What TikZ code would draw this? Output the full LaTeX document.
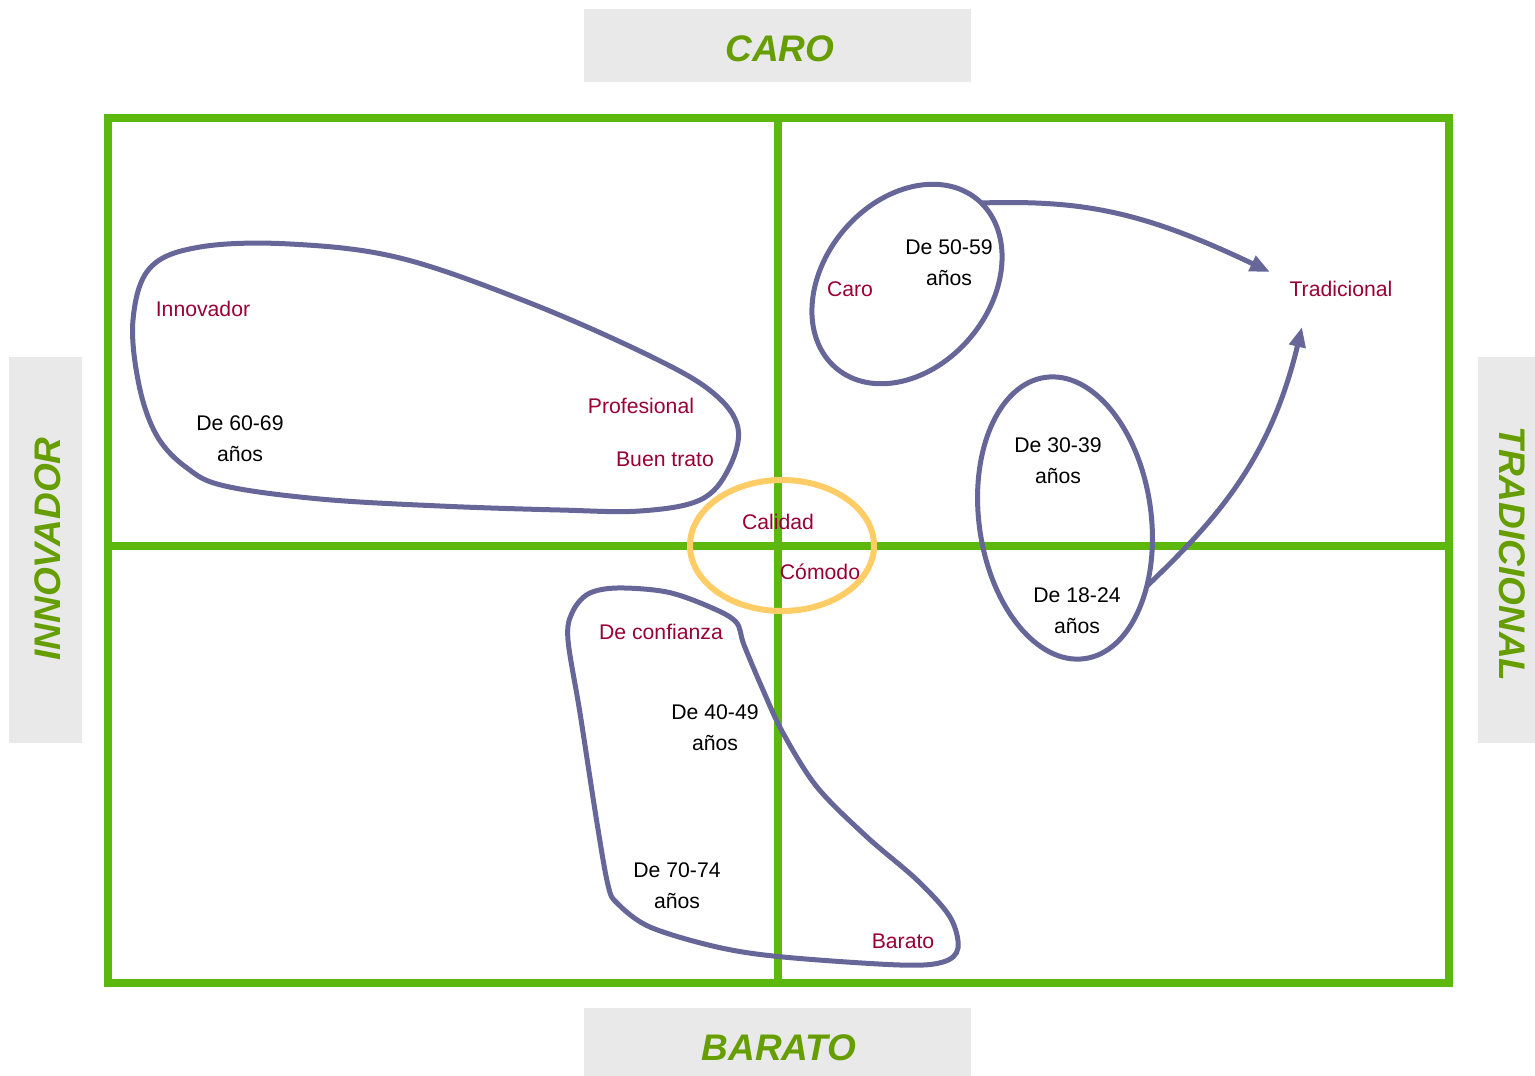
\documentclass[tikz,border=0pt]{standalone}
\usepackage{fontspec}
\setmainfont{Liberation Sans}
\usetikzlibrary{arrows.meta,shapes.geometric}
\definecolor{frameGreen}{HTML}{5CB80C}
\definecolor{titleGreen}{HTML}{669E00}
\definecolor{boxGray}{HTML}{E9E9E9}
\definecolor{blobPurple}{HTML}{666699}
\definecolor{labelRed}{HTML}{990033}
\definecolor{ringYellow}{HTML}{FFCC66}
\begin{document}
\begin{tikzpicture}[x=1pt,y=-1pt,
 frameline/.style={draw=frameGreen,line width=8pt},
 graybox/.style={fill=boxGray,inner sep=0pt,outer sep=0pt},
 title/.style={text=titleGreen,font=\fontsize{37}{40}\selectfont\bfseries\itshape,inner sep=0pt},
 blob/.style={draw=blobPurple,line width=5pt},
 ring/.style={draw=ringYellow,line width=6pt},
 arrowline/.style={blob,-{Triangle[length=20pt,width=16pt]}},
 attr/.style={text=labelRed,font=\fontsize{21.2}{31}\selectfont,inner sep=0pt},
 age/.style={text=black,font=\fontsize{21.2}{31}\selectfont,align=center,inner sep=0pt},
]
\useasboundingbox[fill=white] (0,0) rectangle (1535,1076);

% axis title boxes
\node[graybox,minimum width=387pt,minimum height=73pt] (caroBox) at (777.5,45.5) {};
\node[title] (caroT) at (780,48.5) {CARO};
\node[graybox,minimum width=387pt,minimum height=68pt] (baratoBox) at (777.5,1042) {};
\node[title] (baratoT) at (779,1047.5) {BARATO};
\node[graybox,minimum width=73pt,minimum height=386pt] (innoBox) at (45.5,550) {};
\node[title,rotate=90] (innoT) at (48,549) {INNOVADOR};
\node[graybox,minimum width=57pt,minimum height=386pt] (tradBox) at (1506.5,550) {};
\node[title,rotate=-90] (tradT) at (1512,554) {TRADICIONAL};

% frame and axes
\draw[frameline] (107.5,118) rectangle (1449,983);
\draw[frameline] (778,118) -- (778,983);
\draw[frameline] (107.5,545.5) -- (1449,545.5);

% yellow ring
\draw[ring] (782,545.5) ellipse [x radius=92, y radius=65.5];

% purple groupings
\draw[blob] plot[smooth cycle, tension=0.6] coordinates {
 (133,320) (150,268) (200,247) (290,244) (400,258) (530,303) (650,356)
 (712,392) (738,428) (728,470) (700,500) (640,511) (560,510) (440,506)
 (320,499) (225,486) (187,468) (157,436) (139,385)};

\draw[blob] plot[smooth cycle, tension=0.55] coordinates {
 (568,640) (572,613) (588,594) (617,588) (667,592) (710,607) (736,622)
 (744,645) (763,690) (783,733) (817,787) (867,837) (917,880) (950,917)
 (958,948) (943,962) (900,965) (783,957) (717,947) (650,927) (617,903)
 (608,885) (597,823) (580,713)};

\draw[blob,rotate around={50:(907,284)}] (907,284) ellipse [x radius=110, y radius=83];
\draw[blob,rotate around={8:(1065,518)}] (1065,518) ellipse [x radius=86, y radius=142];

% labels
\node[attr] (trad) at (1341,289) {Tradicional};
\node[attr] (caro) at (850,289) {Caro};
\node[age] (a5059) at (949,262.5) {De 50-59\\años};
\node[attr] (innov) at (203,309) {Innovador};
\node[age] (a6069) at (240,438.5) {De 60-69\\años};
\node[attr] (prof) at (641,406) {Profesional};
\node[attr] (buen) at (665,459) {Buen trato};
\node[attr] (calidad) at (778,522) {Calidad};
\node[attr] (comodo) at (820,572) {Cómodo};
\node[age] (a3039) at (1058,460.5) {De 30-39\\años};
\node[age] (a1824) at (1077,610.5) {De 18-24\\años};
\node[attr] (conf) at (661,632) {De confianza};
\node[age] (a4049) at (715,727.5) {De 40-49\\años};
\node[age] (a7074) at (677,886) {De 70-74\\años};
\node[attr] (barato) at (903,941) {Barato};

% arrows to Tradicional
\coordinate (s1) at (980,203);
\coordinate (t1) at (1270,272);
\coordinate (s2) at (1147,586);
\coordinate (t2) at (1302,327);
\draw[arrowline] (s1) .. controls (1080,200) and (1140,210) .. (t1);
\draw[arrowline] (s2) .. controls (1217,519) and (1270,460) .. (t2);
\end{tikzpicture}
\end{document}
